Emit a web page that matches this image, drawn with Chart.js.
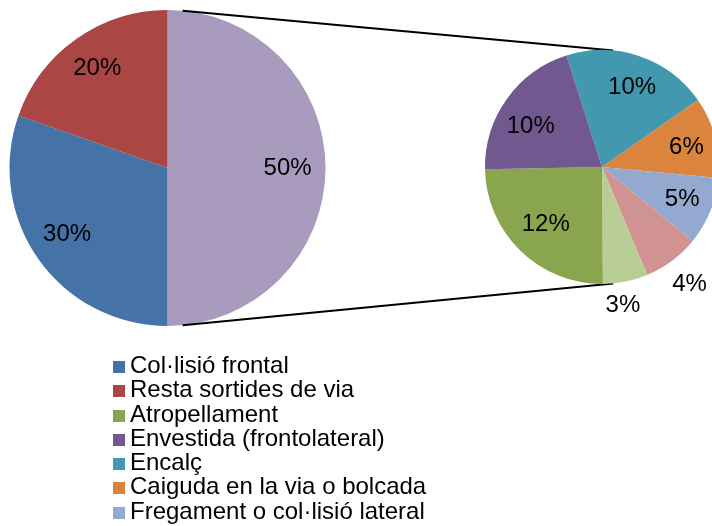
<!DOCTYPE html>
<html lang="ca">
<head>
<meta charset="UTF-8">
<title>Tipus d'accident</title>
<script src="https://cdn.jsdelivr.net/npm/chart.js"></script>
<style>
  html, body { margin: 0; padding: 0; background: #fff; }
  body { font-family: "Liberation Sans", Arial, sans-serif; }
  #wrap { position: relative; width: 712px; height: 526px; overflow: hidden; }
  #mainBox { position: absolute; left: 0; top: 0; width: 712px; height: 526px; }
  /* caixa més gran que el pastís perquè hi càpiguen les etiquetes exteriors */
  #subBox { position: absolute; left: 455px; top: 20px; width: 300px; height: 310px; }
  #legend { position: absolute; left: 113px; top: 353px; margin: 0; padding: 0; list-style: none; }
  #legend li { height: 24.3px; line-height: 24.3px; font-size: 24px; color: #000; white-space: nowrap; }
  #legend span { display: inline-block; width: 12px; height: 12px; margin-right: 5px; vertical-align: 0px; }
</style>
</head>
<body>
<div id="wrap">
  <div id="mainBox"><canvas id="mainPie"></canvas></div>
  <div id="subBox"><canvas id="subPie"></canvas></div>
  <ul id="legend"></ul>
</div>

<script>
// pastís principal (començant a dalt, sentit horari)
const mainLabels = ['Altres', 'Col·lisió frontal', 'Resta sortides de via'];
const mainValues = [50, 30.4, 19.6];
const mainColors = ['#A99BBD', '#4572A7', '#AA4643'];

// pastís secundari: desglossament del 50%
const subLabels = ['Encalç', 'Caiguda en la via o bolcada', 'Fregament o col·lisió lateral', 'Altres (4%)', 'Altres (3%)', 'Atropellament', 'Envestida (frontolateral)'];
const subValues = [10.1, 5.6, 4.7, 3.9, 3.1, 12.4, 10.2];
const subColors = ['#4198AF', '#DB843D', '#93A9CF', '#D19392', '#B9CD96', '#89A54E', '#71588F'];

// ordre de la llegenda
const legendLabels = ['Col·lisió frontal', 'Resta sortides de via', 'Atropellament', 'Envestida (frontolateral)', 'Encalç', 'Caiguda en la via o bolcada', 'Fregament o col·lisió lateral'];
const legendColors = ['#4572A7', '#AA4643', '#89A54E', '#71588F', '#4198AF', '#DB843D', '#93A9CF'];

const FONT = '24px "Liberation Sans", Arial, sans-serif';

// etiquetes de percentatge dins/fora de cada porció
const sliceLabels = {
    id: 'sliceLabels',
    afterDatasetsDraw(chart, args, opts) {
        const ctx = chart.ctx;
        const meta = chart.getDatasetMeta(0);
        const values = chart.data.datasets[0].data;
        ctx.save();
        ctx.font = FONT;
        ctx.fillStyle = '#000';
        ctx.textAlign = 'center';
        ctx.textBaseline = 'middle';
        meta.data.forEach((arc, i) => {
            const mid = (arc.startAngle + arc.endAngle) / 2 + (opts.shift ? opts.shift[i] : 0) * Math.PI / 180;
            const r = arc.outerRadius * opts.factors[i];
            ctx.fillText(Math.round(values[i]) + '%', arc.x + Math.cos(mid) * r, arc.y + Math.sin(mid) * r);
        });
        ctx.restore();
    }
};

// línies que uneixen els dos pastissos
const connectors = {
    id: 'connectors',
    afterDatasetsDraw(chart) {
        if (!window.subChart) return;
        const a = chart.getDatasetMeta(0).data[0];
        const b = window.subChart.getDatasetMeta(0).data[0];
        const box = document.getElementById('subBox');
        const bx = b.x + box.offsetLeft, by = b.y + box.offsetTop;
        const off = 5.5 * Math.PI / 180;
        const ctx = chart.ctx;
        ctx.save();
        ctx.strokeStyle = '#000';
        ctx.lineWidth = 2;
        [-Math.PI / 2 + off, Math.PI / 2 - off].forEach(t => {
            ctx.beginPath();
            ctx.moveTo(a.x + Math.cos(t) * a.outerRadius, a.y + Math.sin(t) * a.outerRadius);
            ctx.lineTo(bx + Math.cos(t) * b.outerRadius, by + Math.sin(t) * b.outerRadius);
            ctx.stroke();
        });
        ctx.restore();
    }
};

const mainChart = new Chart(document.getElementById('mainPie'), {
    type: 'pie',
    data: {
        labels: mainLabels,
        datasets: [{ data: mainValues, backgroundColor: mainColors, borderWidth: 0 }]
    },
    options: {
        responsive: true,
        maintainAspectRatio: false,
        animation: false,
        layout: { padding: { left: 9.5, top: 10, right: 386.5, bottom: 200 } },
        plugins: {
            legend: { display: false },
            tooltip: { enabled: false },
            sliceLabels: { factors: [0.76, 0.76, 0.77], shift: [0, 2, 0] }
        }
    },
    plugins: [connectors, sliceLabels]
});

window.subChart = new Chart(document.getElementById('subPie'), {
    type: 'pie',
    data: {
        labels: subLabels,
        datasets: [{ data: subValues, backgroundColor: subColors, borderWidth: 0 }]
    },
    options: {
        responsive: true,
        maintainAspectRatio: false,
        animation: false,
        rotation: -17.7,
        layout: { padding: { left: 30, top: 30, right: 36, bottom: 46 } },
        plugins: {
            legend: { display: false },
            tooltip: { enabled: false },
            sliceLabels: {
                factors: [0.73, 0.74, 0.74, 1.25, 1.2, 0.69, 0.70],
                shift: [2, 2, 0, 0, 3, 0, -6]
            }
        }
    },
    plugins: [sliceLabels]
});

mainChart.draw();

// llegenda
const legend = document.getElementById('legend');
legendLabels.forEach((txt, i) => {
    const li = document.createElement('li');
    const sw = document.createElement('span');
    sw.style.background = legendColors[i];
    li.appendChild(sw);
    li.appendChild(document.createTextNode(txt));
    legend.appendChild(li);
});
</script>
</body>
</html>
